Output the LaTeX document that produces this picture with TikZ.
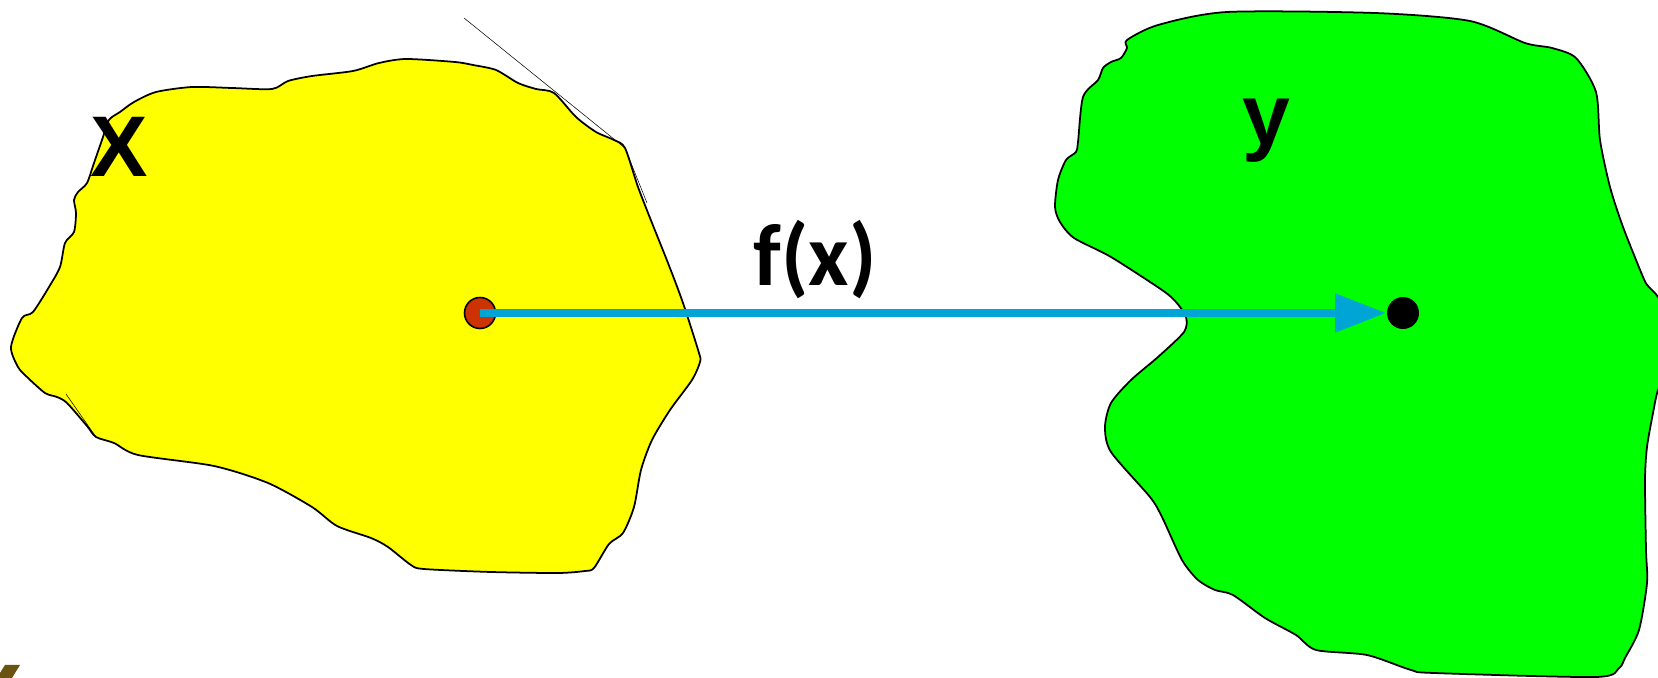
\documentclass[tikz,border=0pt]{standalone}
\usepackage{fontspec}
\usepackage{tikz}
\usetikzlibrary{arrows.meta}
\newfontfamily\setfont{Liberation Sans}
\newfontfamily\mapfont{Carlito}
\definecolor{domyellow}{RGB}{255,255,0}
\definecolor{codgreen}{RGB}{0,255,0}
\definecolor{mapcyan}{RGB}{0,165,214}
\definecolor{ptred}{RGB}{204,51,0}
\definecolor{markbrown}{RGB}{107,82,16}
\tikzset{
  region/.style={draw=black,line width=1pt,line join=round},
  domainset/.style={region,fill=domyellow},
  codomainset/.style={region,fill=codgreen},
  hairline/.style={black,line width=0.3pt},
  dot/.style={circle,inner sep=0pt,line width=0.9pt},
  xpoint/.style={dot,draw=black,fill=ptred,minimum size=0.62cm},
  ypoint/.style={dot,fill=black,minimum size=0.64cm},
  mapping/.style={-{Triangle[length=1.02cm,width=0.74cm]},draw=mapcyan,line width=0.16cm},
  setlab/.style={font=\setfont\bfseries\fontsize{49}{56}\selectfont,inner sep=0pt},
  maplab/.style={font=\mapfont\bfseries\fontsize{50}{58}\selectfont,inner sep=0pt},
}

\begin{document}
\begin{tikzpicture}[x=0.02cm,y=-0.02cm]
  \path[use as bounding box] (0,0) rectangle (1658,678);

  % domain X
  \draw[domainset] plot[smooth cycle,tension=0.45] coordinates {
    (109,120) (120,112) (134,102) (156,92) (192,87) (232,88) (272,89) (288,81)
    (312,76) (353,71) (379,63) (406,59) (455,62) (473,65) (496,70) (518,83)
    (536,89) (554,93) (576,117) (596,132) (614,140) (625,148) (638,187) (652,223)
    (668,263) (683,303) (699,353) (700,362) (692,380) (670,410) (652,440) (641,470)
    (634,507) (623,533) (609,544) (594,568) (585,571) (558,573) (491,572) (424,569)
    (411,565) (388,547) (371,538) (337,526) (312,507) (268,483) (214,466) (138,455)
    (114,443) (96,437) (87,426) (67,403) (57,397) (45,393) (27,377) (18,367)
    (11,347) (22,318) (33,312) (49,287) (60,267) (65,243) (74,232) (76,213)
    (74,200) (78,192) (87,183) (94,163) (102,140)};
  \draw[hairline] (464,18) -- (625,148) -- (647,203);
  \draw[hairline] (66,394) -- (96,437);

  % codomain Y
  \draw[codomainset] plot[smooth cycle,tension=0.45] coordinates {
    (1127,40) (1158,25) (1227,12) (1375,13) (1470,21) (1525,43) (1552,48) (1576,58)
    (1596,92) (1600,140) (1610,187) (1623,227) (1643,277) (1648,286) (1658,297)
    (1668,320) (1668,370) (1658,390) (1653,413) (1647,447) (1645,480) (1646,550)
    (1647,583) (1639,630) (1625,658) (1619,668) (1596,677) (1434,673) (1411,670)
    (1367,655) (1316,650) (1296,635) (1265,618) (1233,595) (1215,590) (1198,580)
    (1182,560) (1162,517) (1150,497) (1111,452) (1105,427) (1111,403) (1131,380)
    (1158,357) (1184,332) (1186,317) (1176,302) (1162,290) (1111,257) (1074,238)
    (1060,222) (1055,207) (1058,180) (1066,160) (1076,152) (1078,142) (1083,97)
    (1098,80) (1103,68) (1111,62) (1121,58) (1127,48)};

  \node[setlab,anchor=base] (lx) at (119,177) {X};
  \node[setlab,anchor=base] (ly) at (1266,145) {y};
  \node[maplab,anchor=base] (lf) at (815,286) {f(x)};

  \node[xpoint] (px) at (480,313) {};
  \node[ypoint] (py) at (1403,313) {};
  \draw[mapping] (px.center) -- (py.west);

  \fill[markbrown] (5,665) -- (20,665) -- (12,678) -- (0,678) -- (0,673) -- cycle;
\end{tikzpicture}
\end{document}
